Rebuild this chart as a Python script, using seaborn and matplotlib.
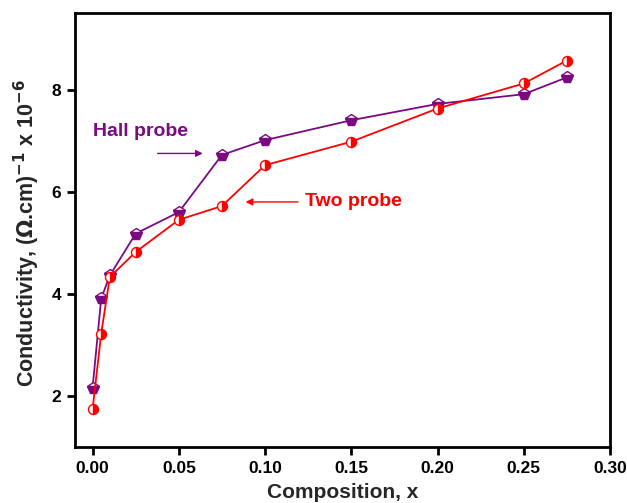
import matplotlib
matplotlib.use("Agg")
import matplotlib.pyplot as plt
import seaborn as sns
import pandas as pd

composition = [0.0, 0.005, 0.01, 0.025, 0.05, 0.075, 0.10, 0.15, 0.20, 0.25, 0.275]
hall_probe = [2.16, 3.91, 4.36, 5.18, 5.60, 6.72, 7.01, 7.40, 7.72, 7.91, 8.24]
two_probe = [1.74, 3.22, 4.33, 4.82, 5.45, 5.72, 6.52, 6.98, 7.63, 8.12, 8.57]
x_ticks = [0.00, 0.05, 0.10, 0.15, 0.20, 0.25, 0.30]
y_ticks = [2, 4, 6, 8]

sns.set_theme(style="white")
plt.rcParams["font.family"] = ["Liberation Sans", "DejaVu Sans"]
plt.rcParams["font.weight"] = "bold"
plt.rcParams["mathtext.default"] = "bf"

purple = "#7B0A82"
red = "#FF0000"

df = pd.DataFrame({"x": composition, "hall": hall_probe, "two": two_probe})

fig = plt.figure(figsize=(6.27, 5.03), dpi=100)
ax = fig.add_axes([0.1196, 0.1113, 0.8533, 0.8628])

sns.lineplot(data=df, x="x", y="hall", ax=ax, color=purple, lw=1.3,
             marker="p", markersize=8.5, fillstyle="bottom",
             markerfacecolor=purple, markerfacecoloralt="white",
             markeredgecolor=purple, markeredgewidth=1.0)
sns.lineplot(data=df, x="x", y="two", ax=ax, color=red, lw=1.3,
             marker="o", markersize=7.2, fillstyle="right",
             markerfacecolor=red, markerfacecoloralt="white",
             markeredgecolor=red, markeredgewidth=1.0)

ax.set_xlim(-0.0102, 0.30)
ax.set_ylim(1.0, 9.5)
ax.set_xticks(x_ticks)
ax.set_xticklabels([f"{t:.2f}" for t in x_ticks])
ax.set_yticks(y_ticks)
ax.set_yticklabels([str(t) for t in y_ticks])

for s in ax.spines.values():
    s.set_linewidth(2.0)
    s.set_color("black")
ax.tick_params(axis="both", direction="out", length=6, width=2.0,
               labelsize=12.5, bottom=True, left=True, colors="black", pad=4)
for lab in ax.get_xticklabels() + ax.get_yticklabels():
    lab.set_fontweight("bold")

ax.set_xlabel("Composition, x", fontsize=15, fontweight="bold")
ax.xaxis.set_label_coords(0.5, -0.082)
ax.set_ylabel(r"Conductivity, ($\mathrm{\Omega}$.cm)$^{\mathbf{-1}}$ x 10$^{\mathbf{-6}}$",
              fontsize=15.5, fontweight="bold")
ax.yaxis.set_label_coords(-0.062, 0.492)

ax.text(0.0, 7.17, "Hall probe", color=purple, fontsize=14, fontweight="bold",
        va="center", ha="left")
ax.annotate("", xy=(0.0655, 6.75), xytext=(0.0361, 6.75),
            arrowprops=dict(arrowstyle="-|>", color=purple, lw=1.0,
                            mutation_scale=10))
ax.text(0.1234, 5.80, "Two probe", color=red, fontsize=14, fontweight="bold",
        va="center", ha="left")
ax.annotate("", xy=(0.0871, 5.80), xytext=(0.1207, 5.80),
            arrowprops=dict(arrowstyle="-|>", color=red, lw=1.0,
                            mutation_scale=10))

fig.savefig("out.png", dpi=100)
